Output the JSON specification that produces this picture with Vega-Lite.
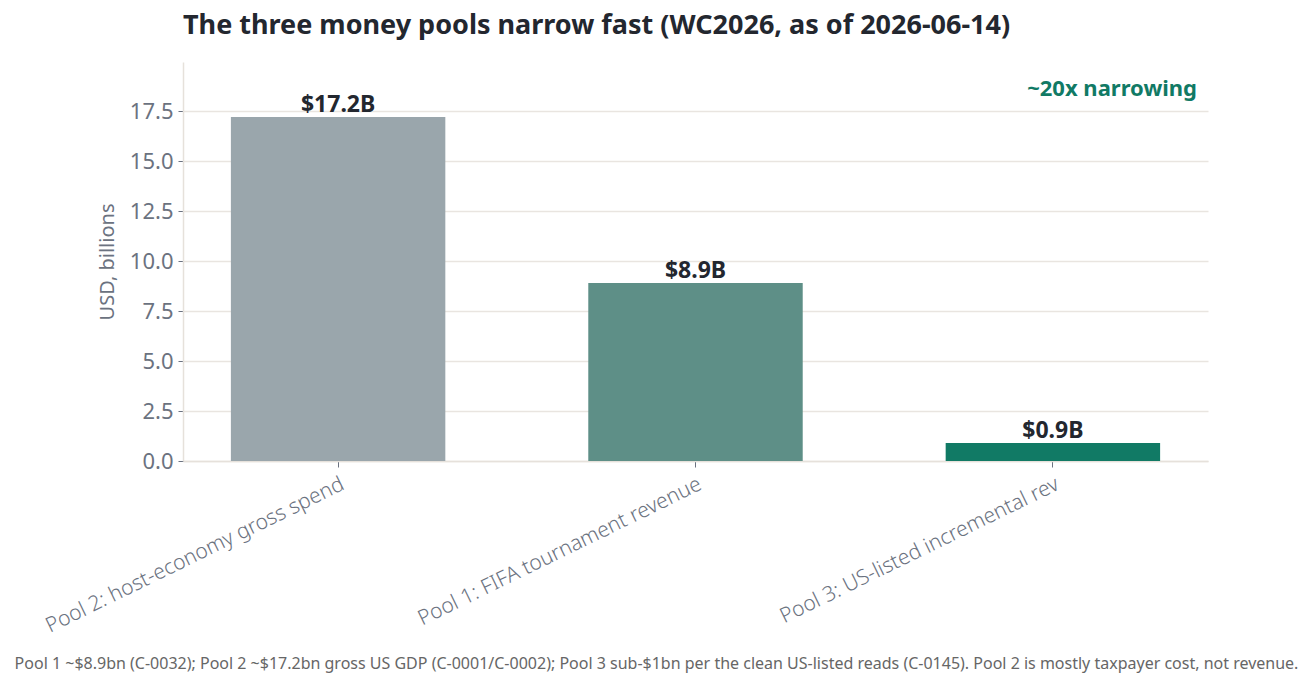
{
  "$schema": "https://vega.github.io/schema/vega-lite/v6.json",
  "width": 1025,
  "height": 399,
  "autosize": {"type": "none"},
  "padding": {"left": 183, "top": 62, "right": 103, "bottom": 228},
  "background": "white",
  "config": {
    "font": "Noto Sans",
    "view": {"stroke": null}
  },
  "title": {
    "text": "The three money pools narrow fast (WC2026, as of 2026-06-14)",
    "anchor": "start",
    "frame": "group",
    "fontSize": 27,
    "fontWeight": "bold",
    "color": "#23272f",
    "offset": 22
  },
  "data": {
    "values": [
      {"pool": "Pool 2: host-economy gross spend", "value": 17.2, "label": "$17.2B"},
      {"pool": "Pool 1: FIFA tournament revenue", "value": 8.9, "label": "$8.9B"},
      {"pool": "Pool 3: US-listed incremental rev", "value": 0.9, "label": "$0.9B"}
    ]
  },
  "encoding": {
    "x": {
      "field": "pool",
      "type": "nominal",
      "sort": null,
      "scale": {"paddingInner": 0.4, "paddingOuter": 0.134},
      "axis": {
        "title": "Pool 1 ~$8.9bn (C-0032); Pool 2 ~$17.2bn gross US GDP (C-0001/C-0002); Pool 3 sub-$1bn per the clean US-listed reads (C-0145). Pool 2 is mostly taxpayer cost, not revenue.",
        "titleFontSize": 16,
        "titleFontWeight": "normal",
        "titleColor": "#666666",
        "titleX": 473,
        "titleY": 202,
        "titleAlign": "center",
        "titleBaseline": "middle",
        "labelAngle": -26,
        "labelAlign": "right",
        "labelBaseline": "top",
        "labelFontSize": 21,
        "labelFontWeight": 300,
        "labelColor": "#6b7280",
        "labelPadding": 6,
        "labelLimit": 0,
        "tickColor": "#6b7280",
        "tickSize": 6,
        "domainColor": "#e6e1db",
        "domainWidth": 1.5,
        "grid": false
      }
    },
    "y": {
      "field": "value",
      "type": "quantitative",
      "scale": {"domain": [0, 19.95], "nice": false},
      "axis": {
        "title": "USD, billions",
        "titleFontSize": 20,
        "titleFontWeight": "normal",
        "titleColor": "#6b7280",
        "titlePadding": 12,
        "values": [0, 2.5, 5, 7.5, 10, 12.5, 15, 17.5],
        "format": ".1f",
        "labelFontSize": 22,
        "labelFontWeight": "normal",
        "labelColor": "#6b7280",
        "labelPadding": 5,
        "tickColor": "#6b7280",
        "tickSize": 5,
        "domainColor": "#e6e1db",
        "domainWidth": 1.5,
        "gridColor": "#e9e5e0",
        "gridWidth": 1.5
      }
    }
  },
  "layer": [
    {
      "mark": {"type": "bar"},
      "encoding": {
        "color": {
          "field": "pool",
          "type": "nominal",
          "scale": {
            "domain": ["Pool 2: host-economy gross spend", "Pool 1: FIFA tournament revenue", "Pool 3: US-listed incremental rev"],
            "range": ["#9aa6ac", "#5e8f87", "#117a65"]
          },
          "legend": null
        }
      }
    },
    {
      "mark": {"type": "text", "fontSize": 23, "fontWeight": "bold", "color": "#23272f", "baseline": "alphabetic", "dy": -5},
      "encoding": {"text": {"field": "label"}}
    },
    {
      "data": {"values": [{"note": "~20x narrowing", "y": 18.25}]},
      "mark": {"type": "text", "fontSize": 22, "fontWeight": "bold", "color": "#117a65", "align": "right", "baseline": "alphabetic", "dx": -11},
      "encoding": {
        "x": {"value": "width"},
        "y": {"field": "y", "type": "quantitative"},
        "text": {"field": "note"}
      }
    }
  ]
}
